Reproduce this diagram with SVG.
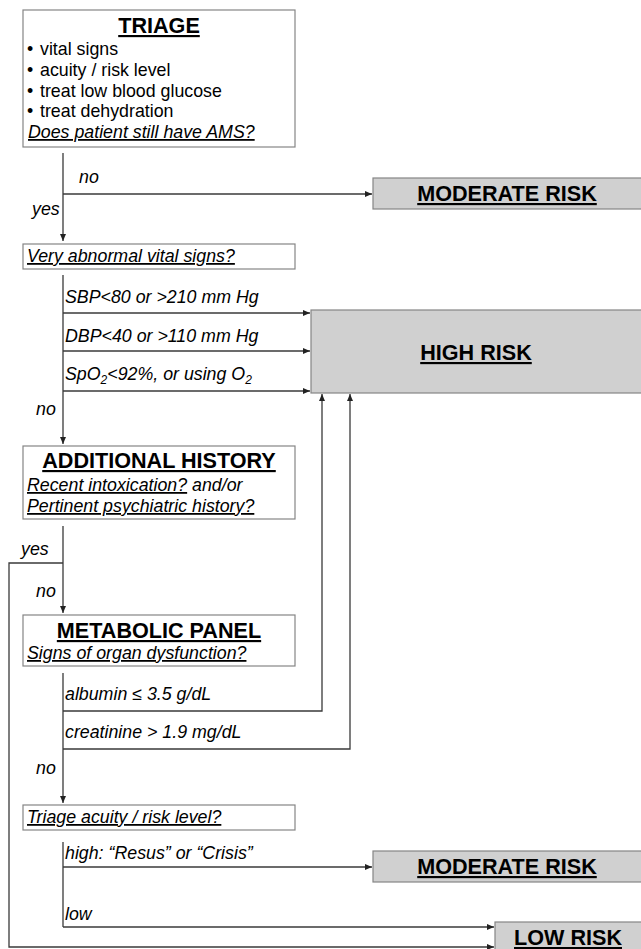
<svg xmlns="http://www.w3.org/2000/svg" width="641" height="949" viewBox="0 0 641 949">
<defs>
<marker id="arr" markerUnits="userSpaceOnUse" markerWidth="7" markerHeight="6" refX="7" refY="3" orient="auto">
<path d="M0,0 L7,3 L0,6 z" fill="#222"/>
</marker>
<style>
text{font-family:"Liberation Sans",Arial,sans-serif;fill:#000}
.t{font-size:17.8px}
.i{font-size:17.8px;font-style:italic}
.u{text-decoration:underline}
.h{font-size:21.6px;font-weight:bold;text-decoration:underline;text-anchor:middle}
.box{fill:#fff;stroke:#858585;stroke-width:1.2}
.risk{fill:#d0d0d0;stroke:#858585;stroke-width:1.2}
.c{fill:none;stroke:#3a3a3a;stroke-width:1.3}
.a{marker-end:url(#arr)}
</style>
</defs>
<rect width="641" height="949" fill="#fff"/>

<g id="connectors">
<line class="c a" x1="63" y1="153" x2="63" y2="241"/>
<line class="c a" x1="63" y1="194" x2="372" y2="194"/>
<line class="c a" x1="63" y1="275" x2="63" y2="444"/>
<line class="c a" x1="63" y1="313" x2="310" y2="313"/>
<line class="c a" x1="63" y1="351" x2="310" y2="351"/>
<line class="c a" x1="63" y1="391" x2="310" y2="391"/>
<line class="c a" x1="63" y1="526" x2="63" y2="613"/>
<polyline class="c a" points="63,563 9,563 9,947 494,947"/>
<line class="c a" x1="63" y1="673" x2="63" y2="803"/>
<polyline class="c a" points="63,711 322,711 322,394"/>
<polyline class="c a" points="63,749 350,749 350,394"/>
<line class="c" x1="63" y1="842" x2="63" y2="927"/>
<line class="c a" x1="63" y1="867" x2="372" y2="867"/>
<line class="c a" x1="63" y1="927" x2="494" y2="927"/>
</g>

<g id="connector-labels">
<text class="i" x="79" y="183">no</text>
<text class="i" x="32" y="215">yes</text>
<text class="i" x="65" y="303">SBP&lt;80 or &gt;210 mm Hg</text>
<text class="i" x="65" y="342">DBP&lt;40 or &gt;110 mm Hg</text>
<text class="i" x="65" y="380">SpO<tspan font-size="12" dy="4">2</tspan><tspan dy="-4">&lt;92%, or using O</tspan><tspan font-size="12" dy="4">2</tspan></text>
<text class="i" x="36" y="415">no</text>
<text class="i" x="21" y="555">yes</text>
<text class="i" x="36" y="597">no</text>
<text class="i" x="65" y="700">albumin ≤ 3.5 g/dL</text>
<text class="i" x="65" y="738">creatinine &gt; 1.9 mg/dL</text>
<text class="i" x="36" y="774">no</text>
<text class="i" x="65" y="859">high: “Resus” or “Crisis”</text>
<text class="i" x="65" y="920">low</text>
</g>

<g id="triage">
<rect class="box" x="23" y="10" width="272" height="137"/>
<text class="h" x="159" y="33">TRIAGE</text>
<text class="t" x="27" y="55">•</text><text class="t" x="40" y="55">vital signs</text>
<text class="t" x="27" y="76">•</text><text class="t" x="40" y="76">acuity / risk level</text>
<text class="t" x="27" y="97">•</text><text class="t" x="40" y="97">treat low blood glucose</text>
<text class="t" x="27" y="117">•</text><text class="t" x="40" y="117">treat dehydration</text>
<text class="i u" x="28" y="138">Does patient still have AMS?</text>
</g>

<g id="moderate-risk-1">
<rect class="risk" x="373" y="178" width="270" height="31"/>
<text class="h" x="507" y="201">MODERATE RISK</text>
</g>

<g id="vital-signs">
<rect class="box" x="23" y="244" width="272" height="25"/>
<text class="i u" x="27" y="262">Very abnormal vital signs?</text>
</g>

<g id="high-risk">
<rect class="risk" x="311" y="310" width="332" height="83"/>
<text class="h" x="476" y="360">HIGH RISK</text>
</g>

<g id="additional-history">
<rect class="box" x="23" y="446" width="272" height="73"/>
<text class="h" x="159" y="468">ADDITIONAL HISTORY</text>
<text class="i" x="27" y="491"><tspan class="u">Recent intoxication?</tspan> and/or</text>
<text class="i u" x="27" y="512">Pertinent psychiatric history?</text>
</g>

<g id="metabolic-panel">
<rect class="box" x="23" y="615" width="272" height="51"/>
<text class="h" x="159" y="638">METABOLIC PANEL</text>
<text class="i u" x="27" y="659">Signs of organ dysfunction?</text>
</g>

<g id="triage-acuity">
<rect class="box" x="23" y="805" width="272" height="25"/>
<text class="i u" x="27" y="823">Triage acuity / risk level?</text>
</g>

<g id="moderate-risk-2">
<rect class="risk" x="373" y="851" width="270" height="31"/>
<text class="h" x="507" y="874">MODERATE RISK</text>
</g>

<g id="low-risk">
<rect class="risk" x="495" y="922" width="148" height="30"/>
<text class="h" x="568" y="945">LOW RISK</text>
</g>
</svg>
